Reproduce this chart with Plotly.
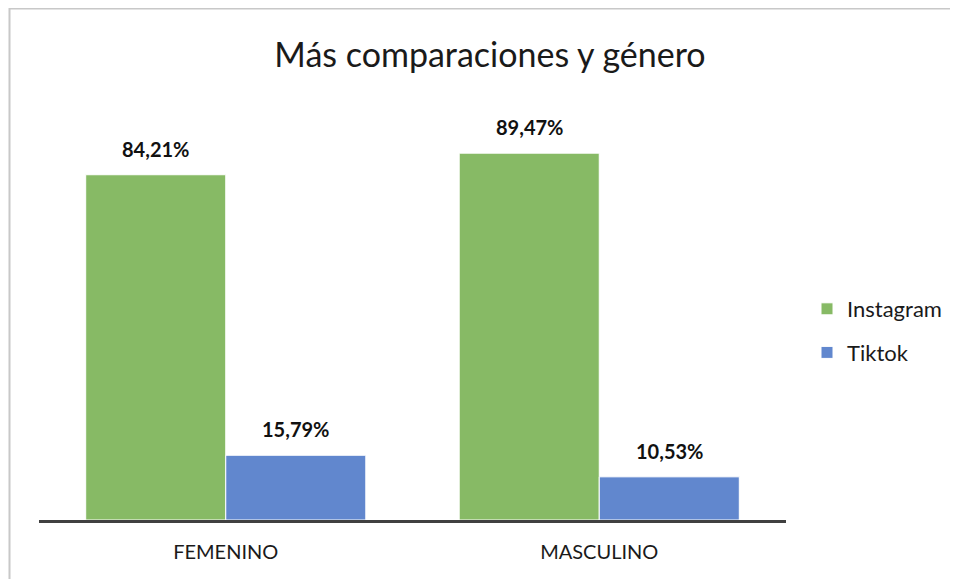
import plotly.graph_objects as go

categories = ["FEMENINO", "MASCULINO"]
instagram = [84.21, 89.47]
tiktok = [15.79, 10.53]
series_names = ["Instagram", "Tiktok"]
colors = ["#87BA65", "#6187CE"]
title = "Más comparaciones y género"

# page body has an 8px margin: figure coords = screen coords - 8
L, R_EDGE, T, B_EDGE = 31, 778, 102, 512
W, H = 958, 579
PW, PH = R_EDGE - L, B_EDGE - T

fig = go.Figure()
for name, vals, col in zip(series_names, [instagram, tiktok], colors):
    fig.add_trace(go.Bar(
        name=name, x=categories, y=vals,
        marker=dict(color=col, line=dict(color="#FFFFFF", width=1)),
        legendgroup=name,
    ))

def fmt(v):
    return f"{v:.2f}".replace(".", ",") + "%"

for vals, shift in [(instagram, -70), (tiktok, 70)]:
    for c, v in zip(categories, vals):
        fig.add_annotation(x=c, y=v, text="<b>" + fmt(v) + "</b>", showarrow=False,
                           xshift=shift, yshift=26, yanchor="middle",
                           font=dict(family="Lato", size=20, color="#111111"))

fig.add_shape(type="rect", xref="paper", yref="paper",
              x0=(1.5 - L) / PW, x1=1.4, y0=-0.3, y1=(B_EDGE - 0.5) / PH,
              line=dict(color="#C8C8C8", width=2), fillcolor="rgba(0,0,0,0)", layer="below")

fig.update_layout(
    width=W, height=H,
    margin=dict(l=L, r=W - R_EDGE, t=T, b=H - B_EDGE),
    paper_bgcolor="white", plot_bgcolor="white",
    barmode="group", bargap=0.25, bargroupgap=0,
    title=dict(text=title, x=482 / W, xref="container", xanchor="center",
               y=1 - 47 / H, yanchor="middle",
               font=dict(family="Lato", size=34, color="#1a1a1a")),
    legend=dict(x=(799 - L) / PW, y=(B_EDGE - 323) / PH, xanchor="left", yanchor="middle",
                font=dict(family="Lato", size=22, color="#1a1a1a"), tracegroupgap=12,
                itemwidth=30),
    showlegend=True,
)
fig.update_xaxes(showline=True, linecolor="#404040", linewidth=3, ticks="",
                 tickfont=dict(family="Lato", size=20, color="#1a1a1a"), showgrid=False,
                 ticklabelstandoff=12)
fig.update_yaxes(range=[0, 100], visible=False, showgrid=False)

fig.write_html("out.html")
